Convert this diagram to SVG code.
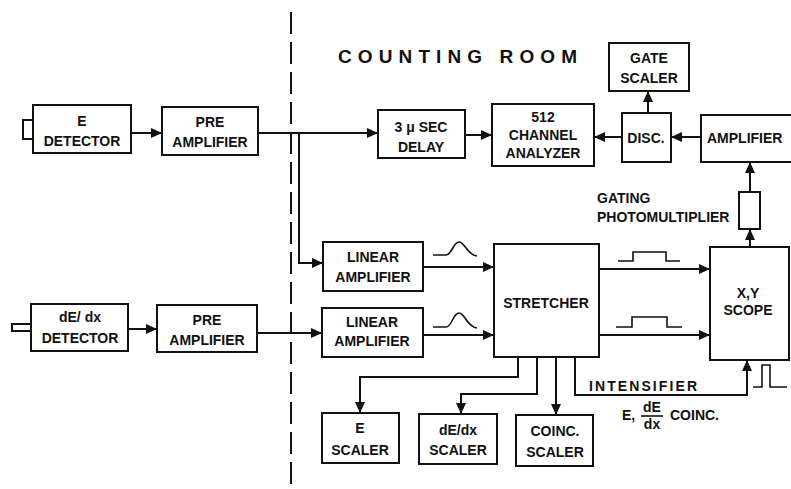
<svg xmlns="http://www.w3.org/2000/svg" width="791" height="489" viewBox="0 0 791 489">
<defs>
<style>
.box{fill:#fff;stroke:#111;stroke-width:2}
.t{font-family:"Liberation Sans",Arial,sans-serif;font-weight:bold;font-size:14px;fill:#111;text-anchor:middle}
.ts{font-family:"Liberation Sans",Arial,sans-serif;font-weight:bold;font-size:14px;fill:#111}
.c{fill:none;stroke:#111;stroke-width:2}
.p{fill:none;stroke:#111;stroke-width:1.6}
</style>
<marker id="ah" markerUnits="userSpaceOnUse" markerWidth="12" markerHeight="10" refX="11" refY="5" orient="auto">
<path d="M0,0 L11,5 L0,10 z" fill="#111"/>
</marker>
</defs>
<rect width="791" height="489" fill="#fff"/>
<line x1="291" y1="12" x2="291" y2="489" stroke="#111" stroke-width="2" stroke-dasharray="22,8"/>
<text id="counting-room" x="338" y="63" font-family="'Liberation Sans',Arial,sans-serif" font-weight="bold" font-size="19" fill="#111" textLength="239" lengthAdjust="spacing">COUNTING ROOM</text>

<g id="connectors">
<path class="c" d="M131,133 H162" marker-end="url(#ah)"/>
<path class="c" d="M258,133 H378" marker-end="url(#ah)"/>
<path class="c" d="M299,133 V263 H323" marker-end="url(#ah)"/>
<path class="c" d="M465,135 H492" marker-end="url(#ah)"/>
<path class="c" d="M622,137 H594" marker-end="url(#ah)"/>
<path class="c" d="M701,137 H671" marker-end="url(#ah)"/>
<path class="c" d="M648,113 V91" marker-end="url(#ah)"/>
<path class="c" d="M750,192 V162" marker-end="url(#ah)"/>
<path class="c" d="M750,247 V229" marker-end="url(#ah)"/>
<path class="c" d="M128,329 H157" marker-end="url(#ah)"/>
<path class="c" d="M257,333 H322" marker-end="url(#ah)"/>
<path class="c" d="M423,267 H494" marker-end="url(#ah)"/>
<path class="c" d="M423,335 H494" marker-end="url(#ah)"/>
<path class="c" d="M599,269 H710" marker-end="url(#ah)"/>
<path class="c" d="M599,335 H710" marker-end="url(#ah)"/>
<path class="c" d="M518,357 V377 H360 V413" marker-end="url(#ah)"/>
<path class="c" d="M537,357 V394 H461 V414" marker-end="url(#ah)"/>
<path class="c" d="M556,357 V415" marker-end="url(#ah)"/>
<path class="c" d="M575,357 V395 H747 V360" marker-end="url(#ah)"/>
</g>

<g id="waveforms">
<path class="p" d="M433,255 H446 C452,255 453,242 459,242 C465,242 467,255 477,256"/>
<path class="p" d="M433,327 H446 C452,327 453,313 459,313 C465,313 467,327 477,328"/>
<path class="p" d="M618,261 H633 V252 H666 V261 H680"/>
<path class="p" d="M616,327 H632 V317 H667 V327 H682"/>
<path class="p" d="M753,387 H762 V365 H770 V387 H787"/>
</g>

<g id="e-detector">
<rect x="23" y="120" width="10" height="19" class="box"/>
<rect x="33" y="105" width="98" height="48" class="box"/>
<text class="t" x="82" y="126">E</text>
<text class="t" x="82" y="146">DETECTOR</text>
</g>
<g id="pre-amplifier-1">
<rect x="162" y="107" width="96" height="48" class="box"/>
<text class="t" x="210" y="127">PRE</text>
<text class="t" x="210" y="147">AMPLIFIER</text>
</g>
<g id="delay">
<rect x="378" y="110" width="87" height="48" class="box"/>
<text class="t" x="421" y="132">3 μ SEC</text>
<text class="t" x="421" y="152">DELAY</text>
</g>
<g id="analyzer">
<rect x="492" y="104" width="102" height="62" class="box"/>
<text class="t" x="543" y="122">512</text>
<text class="t" x="543" y="140">CHANNEL</text>
<text class="t" x="543" y="158">ANALYZER</text>
</g>
<g id="gate-scaler">
<rect x="609" y="43" width="80" height="48" class="box"/>
<text class="t" x="649" y="63">GATE</text>
<text class="t" x="649" y="83">SCALER</text>
</g>
<g id="disc">
<rect x="622" y="113" width="49" height="49" class="box"/>
<text class="t" x="646" y="143">DISC.</text>
</g>
<g id="amplifier">
<rect x="701" y="115" width="100" height="47" class="box"/>
<text class="ts" x="707" y="143">AMPLIFIER</text>
</g>
<g id="photomultiplier">
<rect x="739" y="192" width="21" height="37" class="box"/>
<text class="ts" x="597" y="203">GATING</text>
<text class="ts" x="597" y="222">PHOTOMULTIPLIER</text>
</g>
<g id="linear-amplifier-1">
<rect x="323" y="242" width="100" height="49" class="box"/>
<text class="t" x="373" y="262">LINEAR</text>
<text class="t" x="373" y="282">AMPLIFIER</text>
</g>
<g id="linear-amplifier-2">
<rect x="322" y="308" width="101" height="49" class="box"/>
<text class="t" x="372" y="327">LINEAR</text>
<text class="t" x="372" y="346">AMPLIFIER</text>
</g>
<g id="stretcher">
<rect x="494" y="244" width="105" height="113" class="box"/>
<text class="t" x="546" y="308">STRETCHER</text>
</g>
<g id="scope">
<rect x="710" y="247" width="79" height="113" class="box"/>
<text class="t" x="748" y="298">X,Y</text>
<text class="t" x="748" y="315">SCOPE</text>
</g>
<g id="de-dx-detector">
<rect x="12" y="324" width="19" height="7" class="box"/>
<rect x="31" y="304" width="97" height="47" class="box"/>
<text class="t" x="80" y="322">dE/ dx</text>
<text class="t" x="80" y="343">DETECTOR</text>
</g>
<g id="pre-amplifier-2">
<rect x="157" y="305" width="100" height="47" class="box"/>
<text class="t" x="207" y="325">PRE</text>
<text class="t" x="207" y="345">AMPLIFIER</text>
</g>
<g id="e-scaler">
<rect x="322" y="413" width="77" height="50" class="box"/>
<text class="t" x="360" y="433">E</text>
<text class="t" x="360" y="455">SCALER</text>
</g>
<g id="de-dx-scaler">
<rect x="419" y="414" width="78" height="50" class="box"/>
<text class="t" x="458" y="435">dE/dx</text>
<text class="t" x="458" y="455">SCALER</text>
</g>
<g id="coinc-scaler">
<rect x="516" y="415" width="77" height="51" class="box"/>
<text class="t" x="555" y="436">COINC.</text>
<text class="t" x="555" y="457">SCALER</text>
</g>
<g id="intensifier-label">
<text class="ts" x="589" y="391" textLength="108" lengthAdjust="spacing">INTENSIFIER</text>
<text class="ts" x="622" y="420">E,</text>
<text class="t" x="652" y="412">dE</text>
<line x1="641" y1="416" x2="663" y2="416" stroke="#111" stroke-width="1.6"/>
<text class="t" x="652" y="429">dx</text>
<text class="ts" x="670" y="420">COINC.</text>
</g>
</svg>
